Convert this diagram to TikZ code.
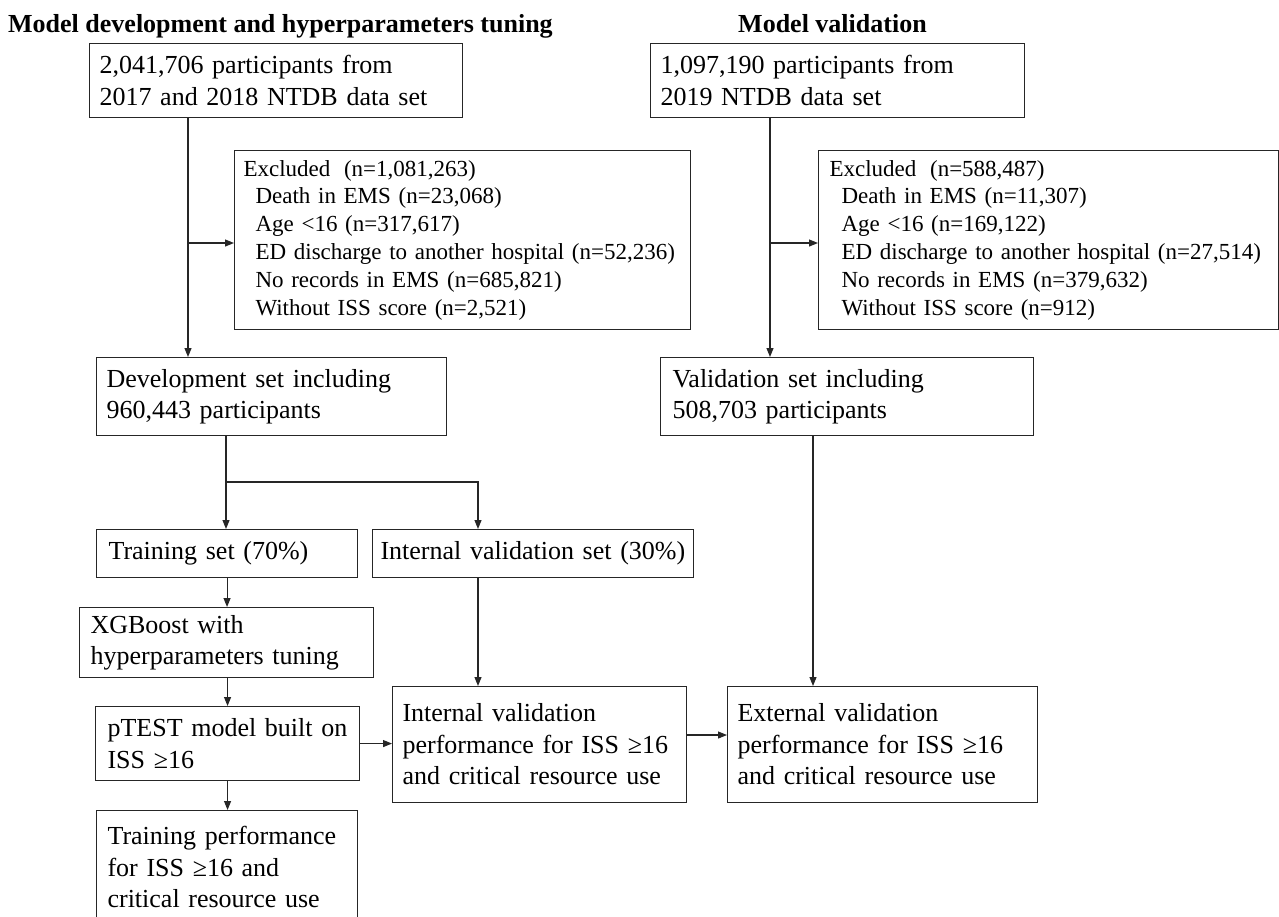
\documentclass[tikz,border=0pt]{standalone}
\usepackage{fontspec}
\setmainfont{Liberation Serif}
\usetikzlibrary{arrows.meta}
\tikzset{
  box/.style={draw=black!85, line width=1.1pt, rectangle, anchor=north west, align=left,
    inner ysep=0pt, inner xsep=10pt, font=\fontsize{26pt}{31.5pt}\selectfont, text=black},
  exbox/.style={box, font=\fontsize{23pt}{27.8pt}\selectfont},
  title/.style={anchor=base west, inner sep=0pt, font=\bfseries\fontsize{26pt}{31pt}\selectfont},
  arr/.style={draw=black!85, line width=1.1pt, -{Triangle[length=9pt,width=7pt]}},
  ln/.style={draw=black!85, line width=1.1pt}
}
\begin{document}
\begin{tikzpicture}[x=1pt,y=-1pt]
\useasboundingbox (0,0) rectangle (1279,916);
\clip (0,0) rectangle (1279,916);
\fill[white] (0,0) rectangle (1279,916);

\node[title] (t1) at (8,32) {Model development and hyperparameters tuning};
\node[title] (t2) at (738,32) {Model validation};

\node[box, text width=353pt, minimum height=74pt] (A) at (89,43)
  {2,041,706 participants from\\2017 and 2018 NTDB data set};
\node[box, text width=354pt, minimum height=74pt] (B) at (650,43)
  {1,097,190 participants from\\2019 NTDB data set};

\node[exbox, inner xsep=9pt, text width=438pt, minimum height=179pt] (ExL) at (234,150)
  {Excluded\hspace{6pt} (n=1,081,263)\\
   \hspace*{12pt}Death in EMS (n=23,068)\\
   \hspace*{12pt}Age <16 (n=317,617)\\
   \hspace*{12pt}ED discharge to another hospital (n=52,236)\\
   \hspace*{12pt}No records in EMS (n=685,821)\\
   \hspace*{12pt}Without ISS score (n=2,521)};
\node[exbox, inner xsep=11pt, text width=438pt, minimum height=179pt] (ExR) at (818,150)
  {Excluded\hspace{6pt} (n=588,487)\\
   \hspace*{12pt}Death in EMS (n=11,307)\\
   \hspace*{12pt}Age <16 (n=169,122)\\
   \hspace*{12pt}ED discharge to another hospital (n=27,514)\\
   \hspace*{12pt}No records in EMS (n=379,632)\\
   \hspace*{12pt}Without ISS score (n=912)};

\node[box, text width=330pt, minimum height=78pt] (Dev) at (96,357)
  {Development set including\\960,443 participants};
\node[box, inner xsep=12pt, text width=349pt, minimum height=78pt] (Val) at (660,357)
  {Validation set including\\508,703 participants};

\node[box, inner xsep=12pt, text width=237pt, minimum height=48pt] (Train) at (96,529)
  {Training set (70\%)};
\node[box, inner xsep=8pt, text width=305pt, minimum height=48pt] (IntSet) at (372,529)
  {Internal validation set (30\%)};

\node[box, inner xsep=11pt, text width=272pt, minimum height=70pt] (XGB) at (79,607)
  {XGBoost with\\hyperparameters tuning};
\node[box, inner xsep=12pt, text width=240pt, minimum height=74pt] (PT) at (95,706)
  {pTEST model built on\\ISS ≥16};
\node[box, inner xsep=10pt, text width=274pt, minimum height=116pt] (IntPerf) at (392,686)
  {Internal validation\\performance for ISS ≥16\\and critical resource use};
\node[box, inner xsep=10pt, text width=290pt, minimum height=116pt] (ExtPerf) at (727,686)
  {External validation\\performance for ISS ≥16\\and critical resource use};
\node[box, inner xsep=11pt, text width=239pt, minimum height=113pt] (TrPerf) at (96,810)
  {Training performance\\for ISS ≥16 and\\critical resource use};

% junction coordinates
\coordinate (jA) at (188,243);
\coordinate (jB) at (770,243);
\coordinate (jD) at (226,482);
\coordinate (jI) at (478,482);
\coordinate (jE) at (686,735);
\coordinate (jV) at (813,500);

\draw[arr] (A.south -| jA) -- (Dev.north -| jA);
\draw[arr] (jA) -- (ExL.west |- jA);
\draw[arr] (B.south -| jB) -- (Val.north -| jB);
\draw[arr] (jB) -- (ExR.west |- jB);

\draw[arr] (Dev.south -| jD) -- (Train.north -| jD);
\draw[arr] (jD) -- (jI) -- (IntSet.north -| jI);
\draw[arr] (Train.south) -- (XGB.north -| Train.south);
\draw[arr] (XGB.south -| PT.north) -- (PT.north);
\draw[arr] (PT.south) -- (TrPerf.north -| PT.south);
\draw[arr] (PT.east) -- (IntPerf.west |- PT.east);
\draw[arr] (IntSet.south -| jI) -- (IntPerf.north -| jI);
\draw[arr] (IntPerf.east |- jE) -- (ExtPerf.west |- jE);
\draw[arr] (Val.south -| jV) -- (ExtPerf.north -| jV);
\end{tikzpicture}
\end{document}
